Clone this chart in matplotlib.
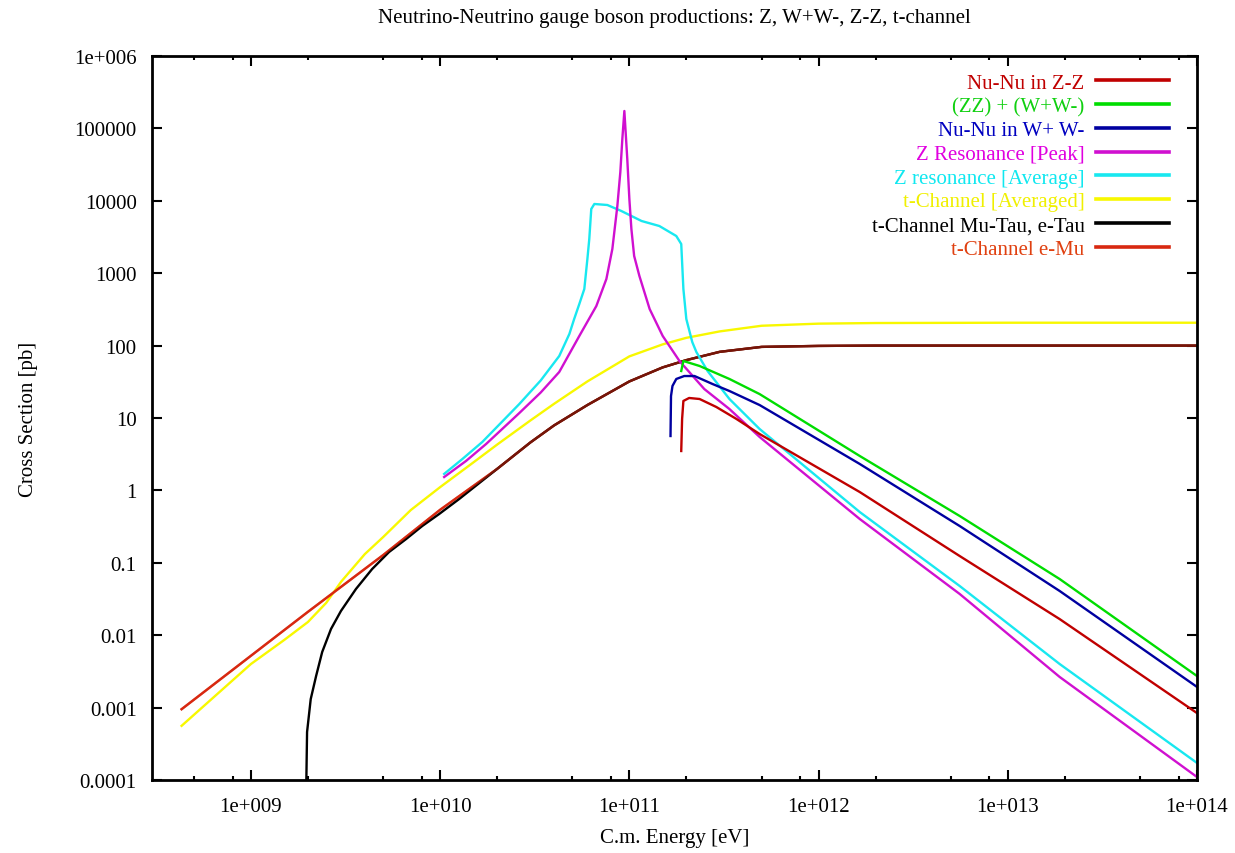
import numpy as np
import matplotlib.pyplot as plt
from matplotlib.ticker import FixedLocator, NullLocator, NullFormatter
from matplotlib.lines import Line2D

plt.rcParams['font.family'] = ['Liberation Serif', 'DejaVu Serif']

# --- data (energy in eV, cross section in pb) ---
# Nu-Nu -> Z Z
zz_energy = [1.88e11, 1.90e11, 1.93e11, 2.07e11, 2.35e11, 2.88e11, 3.68e11, 4.88e11,
             1.65e12, 5.57e12, 1.88e13, 1e14]
zz_xsec = [3.5, 9.7, 17.2, 18.9, 18.3, 14.2, 9.7, 6.01, 0.95, 0.124, 0.0167, 8.4e-4]

# (ZZ) + (W+W-)
sum_energy = [1.88e11, 1.93e11, 2.35e11, 3.38e11, 4.88e11, 1.65e12, 5.57e12, 1.88e13, 1e14]
sum_xsec = [44.6, 61.3, 52.3, 34.6, 21.4, 2.99, 0.443, 0.0597, 2.73e-3]

# Nu-Nu -> W+ W-
ww_energy = [1.65e11, 1.66e11, 1.69e11, 1.77e11, 1.95e11, 2.21e11, 2.75e11, 3.38e11,
             4.88e11, 1.65e12, 5.57e12, 1.88e13, 1e14]
ww_xsec = [5.64, 20.1, 27.7, 34.6, 38.0, 38.0, 29.5, 23.6, 15.1, 2.32, 0.322, 0.0408, 1.93e-3]

# Z resonance, peak
peak_energy = [1.05e10, 1.37e10, 1.75e10, 2.62e10, 3.4e10, 4.26e10, 5.44e10, 6.69e10,
               7.56e10, 8.13e10, 8.64e10, 8.96e10, 9.18e10, 9.41e10, 9.75e10, 1.0e11,
               1.025e11, 1.06e11, 1.13e11, 1.28e11, 1.50e11, 1.84e11, 2.49e11, 3.38e11,
               4.88e11, 1.65e12, 5.57e12, 1.88e13, 1e14]
peak_xsec = [1.53, 2.55, 4.38, 11.7, 22.5, 43.2, 136, 352, 832, 2160, 8480, 25000, 71400,
             174000, 37800, 10600, 4080, 1730, 915, 320, 136, 61.3, 25.1, 13.3, 5.47,
             0.403, 0.0371, 2.65e-3, 1.1e-4]

# Z resonance, averaged
avg_energy = [1.05e10, 1.31e10, 1.67e10, 2.62e10, 3.4e10, 4.26e10, 4.82e10, 5.1e10,
              5.44e10, 5.78e10, 6.0e10, 6.14e10, 6.29e10, 6.53e10, 7.65e10, 9.07e10,
              1.16e11, 1.44e11, 1.77e11, 1.88e11, 1.93e11, 2.0e11, 2.15e11, 2.26e11,
              2.59e11, 3.38e11, 4.88e11, 1.65e12, 5.57e12, 1.88e13, 1e14]
avg_xsec = [1.69, 2.71, 4.66, 15.6, 33.0, 71.8, 145, 230, 376, 605, 1570, 2966, 7709, 9035,
            8750, 7230, 5260, 4487, 3265, 2530, 605, 233, 112, 81.6, 44.6, 18.3, 7.05,
            0.503, 0.0478, 4.0e-3, 1.72e-4]

# t-channel, averaged
tavg_energy = [4.3e8, 1e9, 1.5e9, 2e9, 2.5e9, 3e9, 4e9, 5e9, 7e9, 1e10, 1.5e10, 2e10,
               3e10, 4e10, 6e10, 1e11, 1.5e11, 2e11, 3e11, 5e11, 1e12, 2e12, 1e13, 1e14]
tavg_xsec = [5.6e-4, 4.0e-3, 8.6e-3, 0.0152, 0.028, 0.055, 0.132, 0.227, 0.536, 1.11,
             2.44, 4.29, 9.25, 15.7, 32.0, 71, 104, 128, 157, 188, 201, 205, 207, 207]

# t-channel Mu-Tau, e-Tau
mutau_energy = [1.955e9, 1.98e9, 2.07e9, 2.21e9, 2.38e9, 2.65e9, 2.99e9, 3.59e9, 4.37e9,
                5.37e9, 6.61e9, 8.04e9, 9.88e9, 1.26e10, 2e10, 3e10, 4e10, 6e10, 1e11,
                1.5e11, 2e11, 3e11, 5e11, 1e12, 2e12, 1e13, 1e14]
mutau_xsec = [5e-5, 4.6e-4, 1.31e-3, 2.73e-3, 5.86e-3, 0.0122, 0.0216, 0.0435, 0.082,
              0.141, 0.213, 0.322, 0.472, 0.76, 1.98, 4.6, 7.9, 15.1, 32, 50, 63,
              82, 96, 99, 100, 100, 100]

# t-channel e-Mu
emu_energy = [4.3e8, 1e9, 2e9, 5e9, 1e10, 2e10, 3e10, 4e10, 6e10, 1e11, 1.5e11, 2e11,
              3e11, 5e11, 1e12, 2e12, 1e13, 1e14]
emu_xsec = [9.5e-4, 5.2e-3, 0.021, 0.128, 0.54, 1.98, 4.6, 7.9, 15.1, 32, 50, 63,
            82, 96, 99, 100, 100, 100]

x_ticks = [1e9, 1e10, 1e11, 1e12, 1e13, 1e14]
x_tick_labels = ["1e+009", "1e+010", "1e+011", "1e+012", "1e+013", "1e+014"]
y_ticks = [1e-4, 1e-3, 1e-2, 1e-1, 1, 10, 100, 1000, 1e4, 1e5, 1e6]
y_tick_labels = ["0.0001", "0.001", "0.01", "0.1", "1", "10", "100", "1000",
                 "10000", "100000", "1e+006"]

fig = plt.figure(figsize=(12.35, 8.54), dpi=100)
ax = fig.add_axes([152 / 1235, 73 / 854, 1045 / 1235, 724 / 854])

lw = 1.7
series = [
    (zz_energy, zz_xsec, "#C00000", "Nu-Nu in Z-Z"),
    (sum_energy, sum_xsec, "#00DD00", "(ZZ) + (W+W-)"),
    (ww_energy, ww_xsec, "#0000A0", "Nu-Nu in W+ W-"),
    (peak_energy, peak_xsec, "#D010D0", "Z Resonance [Peak]"),
    (avg_energy, avg_xsec, "#18E8F0", "Z resonance [Average]"),
    (tavg_energy, tavg_xsec, "#F8F800", "t-Channel [Averaged]"),
    (mutau_energy, mutau_xsec, "#000000", "t-Channel Mu-Tau, e-Tau"),
    (emu_energy, emu_xsec, "#D82810", "t-Channel e-Mu"),
]

# e-Mu under and (half see-through) over the black curve, so the shared part reads dark red
ax.plot(tavg_energy, tavg_xsec, color=series[5][2], lw=lw)
ax.plot(emu_energy, emu_xsec, color=series[7][2], lw=lw)
ax.plot(mutau_energy, mutau_xsec, color=series[6][2], lw=lw)
ax.plot(emu_energy, emu_xsec, color=series[7][2], lw=lw, alpha=0.55)
for i in [4, 3, 1, 2, 0]:
    xs, ys, col, lab = series[i]
    ax.plot(xs, ys, color=col, lw=lw)

handles = [Line2D([], [], color=s[2], lw=2.6) for s in series]

ax.set_xscale('log')
ax.set_yscale('log')
ax.set_xlim(3e8, 1e14)
ax.set_ylim(1e-4, 1e6)

ax.xaxis.set_major_locator(FixedLocator(x_ticks))
ax.set_xticklabels(x_tick_labels)
minor_x = [m * 10.0 ** e for e in range(8, 14) for m in (2, 5, 8)]
ax.xaxis.set_minor_locator(FixedLocator([v for v in minor_x if 3e8 < v < 1e14]))
ax.xaxis.set_minor_formatter(NullFormatter())
ax.yaxis.set_major_locator(FixedLocator(y_ticks))
ax.set_yticklabels(y_tick_labels)
ax.yaxis.set_minor_locator(NullLocator())

ax.tick_params(which='both', direction='in', top=True, right=True, width=1.5,
               labelsize=15)
ax.tick_params(which='major', length=7, pad=11)
ax.tick_params(which='minor', length=3)
ax.tick_params(axis='x', which='major', pad=12)
for sp in ax.spines.values():
    sp.set_linewidth(2)

ax.set_xlabel("C.m. Energy [eV]", fontsize=15, labelpad=9)
ax.set_ylabel("Cross Section [pb]", fontsize=15, labelpad=26)
fig.text(674 / 1235, 1 - 18 / 854, "Neutrino-Neutrino gauge boson productions: Z, W+W-, Z-Z, t-channel",
         ha='center', va='center', fontsize=15)

leg = ax.legend(handles, [s[3] for s in series],
                loc='upper right', bbox_to_anchor=(1017 / 1045, (781 - 74) / 724),
                frameon=False, markerfirst=False, fontsize=15, handlelength=3.5,
                handletextpad=0.55, labelspacing=0.2, borderpad=0, borderaxespad=0)
text_colors = ["#C00000", "#10D010", "#0000C0", "#E000E0", "#10E8F0", "#F0F000",
               "#000000", "#E04010"]
for t, c in zip(leg.get_texts(), text_colors):
    t.set_color(c)

fig.savefig("out.png", dpi=100)
